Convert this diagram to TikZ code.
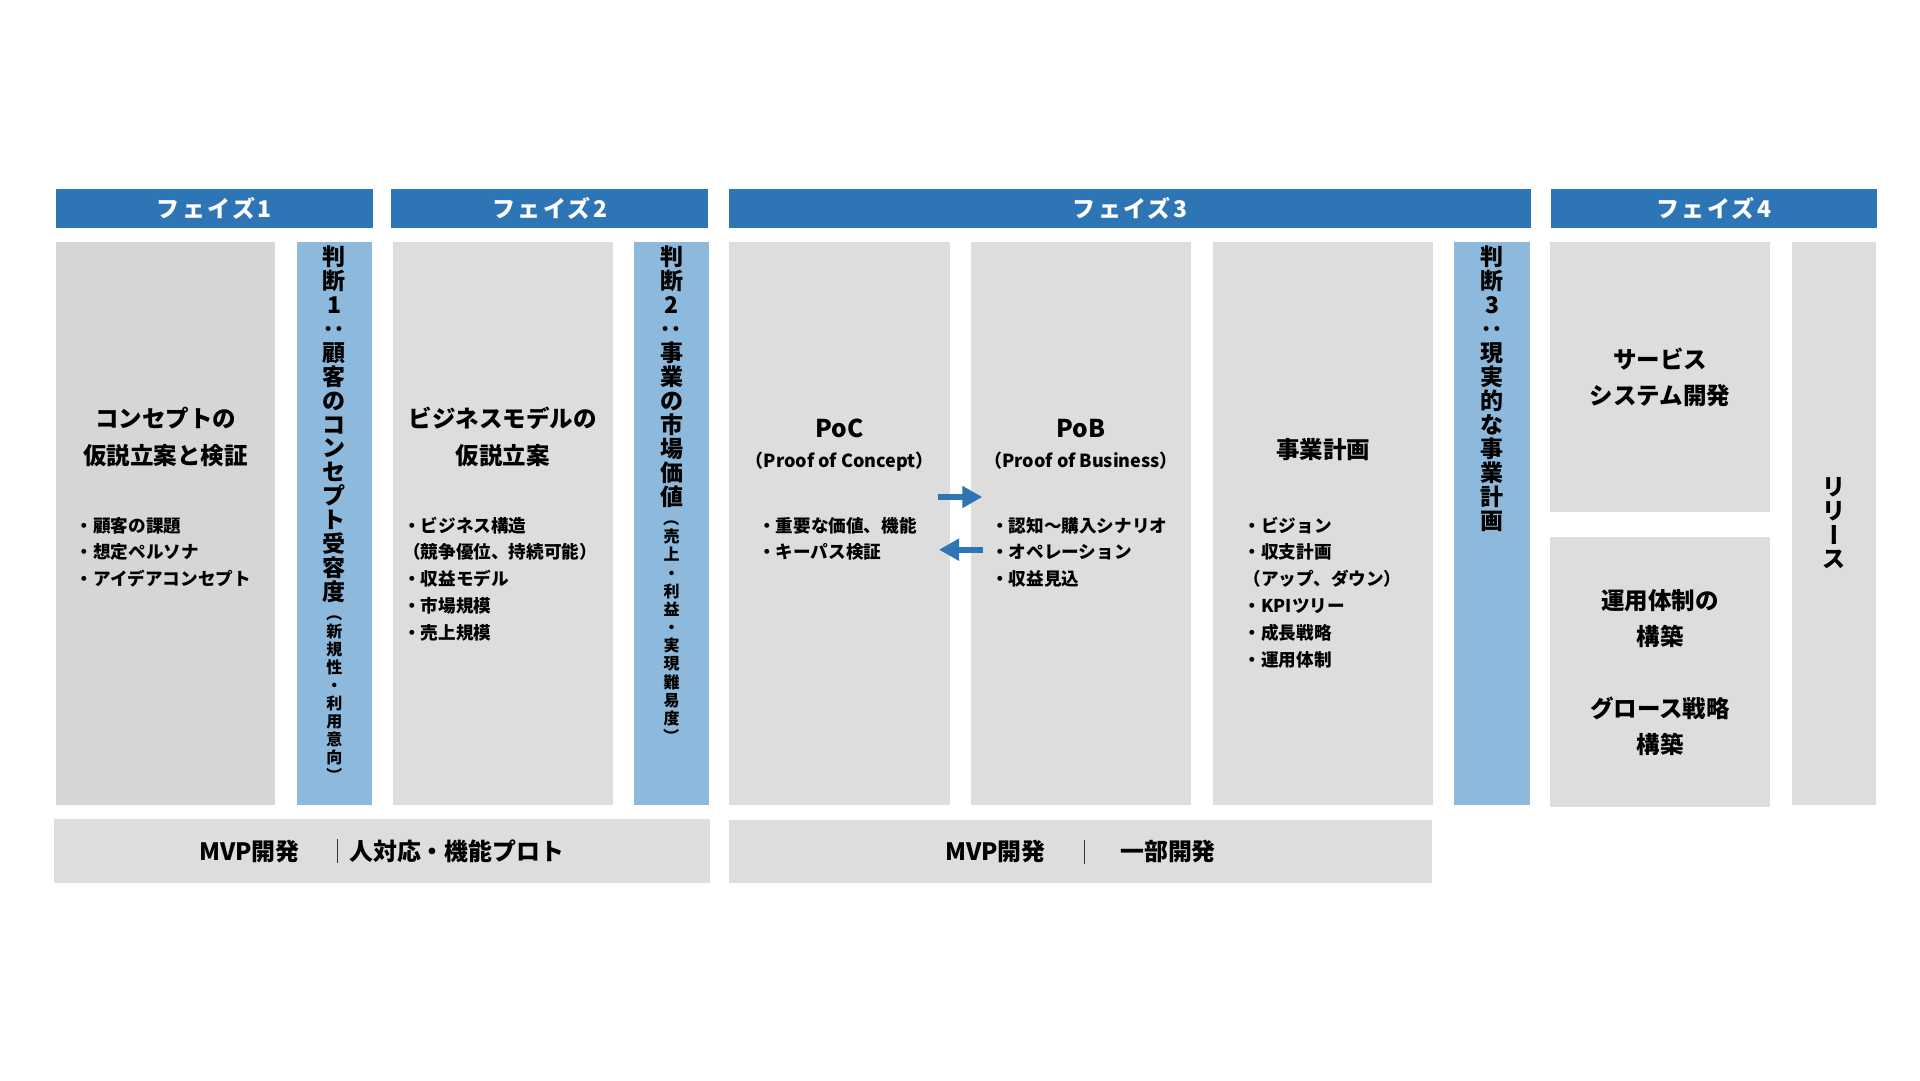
\documentclass[tikz,border=0pt]{standalone}
\usepackage{fontspec}
\usepackage{graphicx}
\setmainfont{Noto Sans CJK JP}
\usetikzlibrary{arrows.meta}
\definecolor{hdrblue}{RGB}{46,117,182}
\definecolor{jblue}{RGB}{141,185,220}
\definecolor{gray1}{RGB}{214,214,214}
\definecolor{gray2}{RGB}{221,221,221}
\tikzset{
  hdr/.style={fill=hdrblue},
  gbox/.style={fill=gray2},
  gboxd/.style={fill=gray1},
  jbox/.style={fill=jblue},
  hdrtxt/.style={inner sep=0, text=white, font=\fontsize{23}{23}\selectfont\bfseries\addfontfeature{LetterSpace=10}, text height=20.24pt, text depth=2.76pt},
  vbig/.style={inner sep=0, font=\fontsize{23}{23}\selectfont\bfseries, text height=20.24pt, text depth=2.76pt},
  vsmall/.style={inner sep=0, font=\fontsize{16}{16}\selectfont\bfseries, text height=14.08pt, text depth=1.92pt},
  ttl/.style={inner sep=0, font=\fontsize{23.5}{23.5}\selectfont\bfseries, text height=20.68pt, text depth=2.82pt},
  bigl/.style={inner sep=0, font=\fontsize{24.5}{24.5}\selectfont\bfseries, text height=21.56pt, text depth=2.94pt},
  sub/.style={inner sep=0, font=\fontsize{18}{18}\selectfont\bfseries, text height=15.84pt, text depth=2.16pt},
  bul/.style={inner sep=0, anchor=west, font=\fontsize{17.6}{17.6}\selectfont\bfseries, text height=15.49pt, text depth=2.11pt},
  mvp/.style={inner sep=0, anchor=west, font=\fontsize{23.9}{23.9}\selectfont\bfseries, text height=21.03pt, text depth=2.87pt},
  barrow/.style={draw=hdrblue, line width=6pt, -{Triangle[length=20pt,width=21pt]}},
  sepline/.style={draw=black!80, line width=1.2pt},
}
\newcommand{\boxat}[6]{%
  \pgfmathsetmacro{\boxw}{#5-#3}\pgfmathsetmacro{\boxh}{#6-#4}%
  \node[#2, draw=none, anchor=north west, minimum width=\boxw pt, minimum height=\boxh pt, inner sep=0pt, outer sep=0pt] (#1) at (#3,#4) {};}
\newcommand{\vtext}[6]{%
  \foreach \ch/\rt [count=\i from 0] in {#6} {%
    \node[#2, rotate=\rt] (#1-\i) at (#3, {#4+\i*#5}) {\ch};
  }}
\begin{document}
\begin{tikzpicture}[x=1pt,y=-1pt]
\useasboundingbox (0,0) rectangle (1920,1080);
% headers
\boxat{h1}{hdr}{55.6}{189.3}{372.6}{228.3}
\boxat{h2}{hdr}{391.3}{189.3}{708.3}{228.3}
\boxat{h3}{hdr}{729.4}{189.3}{1530.7}{228.3}
\boxat{h4}{hdr}{1551}{189.3}{1876.7}{228.3}
\node[hdrtxt] (h1t) at (h1.center) {フェイズ1};
\node[hdrtxt] (h2t) at (h2.center) {フェイズ2};
\node[hdrtxt] (h3t) at (h3.center) {フェイズ3};
\node[hdrtxt] (h4t) at (h4.center) {フェイズ4};
% columns
\boxat{c1}{gboxd}{55.6}{242}{275.3}{804.7}
\boxat{j1}{jbox}{297.1}{242}{371.7}{804.7}
\boxat{c2}{gbox}{392.7}{242}{612.8}{804.7}
\boxat{j2}{jbox}{634.2}{242}{708.8}{804.7}
\boxat{poc}{gbox}{729.4}{242}{950.1}{804.7}
\boxat{pob}{gbox}{971}{242}{1191.2}{804.7}
\boxat{plan}{gbox}{1213.2}{242}{1432.9}{804.7}
\boxat{j3}{jbox}{1454.3}{242}{1529.6}{804.7}
\boxat{svc}{gbox}{1550}{242}{1770}{511.7}
\boxat{ops}{gbox}{1550}{537.3}{1770}{806.7}
\boxat{rel}{gbox}{1792}{242}{1875.7}{804.7}
\boxat{mvp1}{gbox}{54.3}{819.3}{709.6}{883.3}
\boxat{mvp2}{gbox}{729.4}{820}{1431.8}{883.3}
% column 1
\node[ttl] (t1a) at (165.5,419) {コンセプトの};
\node[ttl] (t1b) at (165.5,455.5) {仮説立案と検証};
\foreach \t [count=\i] in {・顧客の課題,・想定ペルソナ,・アイデアコンセプト}
  \node[bul] (b1-\i) at (75.5,{525.3+(\i-1)*26.95}) {\t};
% column 2
\node[ttl] (t2a) at (502.8,419) {ビジネスモデルの};
\node[ttl] (t2b) at (502.8,455.5) {仮説立案};
\foreach \t [count=\i] in {・ビジネス構造,（競争優位、持続可能）,・収益モデル,・市場規模,・売上規模}
  \node[bul] (b2-\i) at (403,{525.3+(\i-1)*26.95}) {\t};
% PoC
\node[bigl] (poct) at (839.8,427.8) {PoC};
\node[sub] (pocs) at (839.8,460.7) {（Proof of Concept）};
\foreach \t [count=\i] in {・重要な価値、機能,・キーパス検証}
  \node[bul] (b3-\i) at (758,{525.3+(\i-1)*26.95}) {\t};
% PoB
\node[bigl] (pobt) at (1081.1,427.8) {PoB};
\node[sub] (pobs) at (1081.1,460.7) {（Proof of Business）};
\foreach \t [count=\i] in {・認知～購入シナリオ,・オペレーション,・収益見込}
  \node[bul] (b4-\i) at (991,{525.3+(\i-1)*26.95}) {\t};
% plan
\node[ttl] (plant) at (1323,449.4) {事業計画};
\foreach \t [count=\i] in {・ビジョン,・収支計画,（アップ、ダウン）,・KPIツリー,・成長戦略,・運用体制}
  \node[bul] (b5-\i) at (1243.5,{525.3+(\i-1)*26.95}) {\t};
% phase 4
\node[ttl] (s1) at (1660,359.5) {サービス};
\node[ttl] (s2) at (1660,395.3) {システム開発};
\node[ttl] (o1) at (1660,600.7) {運用体制の};
\node[ttl] (o2) at (1660,636.7) {構築};
\node[ttl] (o3) at (1660,708.3) {グロース戦略};
\node[ttl] (o4) at (1660,745) {構築};
% vertical texts
\vtext{j1t}{vbig}{334.4}{257}{23.9}{判/0,断/0,1/0,：/-90,顧/0,客/0,の/0,コ/0,ン/0,セ/0,プ/0,ト/0,受/0,容/0,度/0}
\vtext{j1s}{vsmall}{334.4}{613}{18.1}{（/-90,新/0,規/0,性/0,・/0,利/0,用/0,意/0,向/0,）/-90}
\vtext{j2t}{vbig}{671.5}{257}{24}{判/0,断/0,2/0,：/-90,事/0,業/0,の/0,市/0,場/0,価/0,値/0}
\vtext{j2s}{vsmall}{671.5}{518.6}{18.15}{（/-90,売/0,上/0,・/0,利/0,益/0,・/0,実/0,現/0,難/0,易/0,度/0,）/-90}
\vtext{j3t}{vbig}{1492}{257}{24}{判/0,断/0,3/0,：/-90,現/0,実/0,的/0,な/0,事/0,業/0,計/0,画/0}
\vtext{relt}{vbig}{1833.9}{486.5}{24.2}{リ/0,リ/0,ー/-90,ス/0}
% arrows
\coordinate (ra1) at (938.3,497);
\coordinate (ra2) at (982.3,497);
\coordinate (la1) at (982.7,549.7);
\coordinate (la2) at (939,549.7);
\draw[barrow] (ra1) -- (ra2);
\draw[barrow] (la1) -- (la2);
% MVP bars
\node[mvp] (m1a) at (199,851) {MVP開発};
\node[mvp] (m1b) at (349,851) {人対応・機能プロト};
\coordinate (s1a) at (337.8,839.3);
\coordinate (s1b) at (337.8,863.3);
\draw[sepline] (s1a) -- (s1b);
\node[mvp] (m2a) at (945,851.7) {MVP開発};
\node[mvp] (m2b) at (1120,851.7) {一部開発};
\coordinate (s2a) at (1084.5,840);
\coordinate (s2b) at (1084.5,864);
\draw[sepline] (s2a) -- (s2b);
\end{tikzpicture}
\end{document}
